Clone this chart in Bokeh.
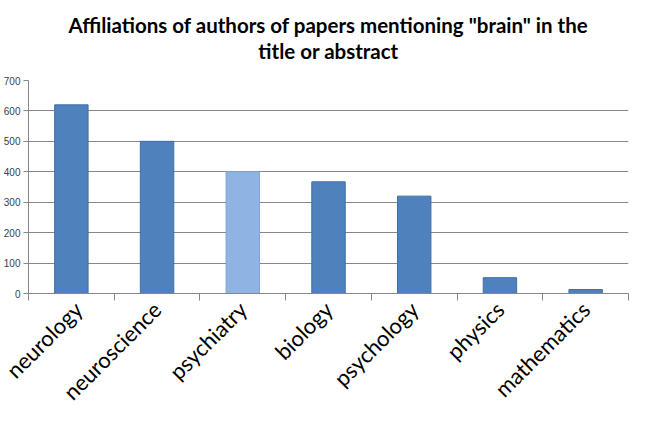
from bokeh.plotting import figure
from bokeh.models import FixedTicker, ColumnDataSource, Title
from bokeh.embed import file_html
from bokeh.resources import INLINE

categories = ["neurology", "neuroscience", "psychiatry", "biology", "psychology", "physics", "mathematics"]
values = [620, 500, 400, 367, 320, 52, 13]
colors = ["#4F81BD", "#4F81BD", "#8DB4E2", "#4F81BD", "#4F81BD", "#4F81BD", "#4F81BD"]
line_colors = ["#3F6FA8", "#3F6FA8", "#7FA6D6", "#3F6FA8", "#3F6FA8", "#3F6FA8", "#3F6FA8"]
y_ticks = [0, 100, 200, 300, 400, 500, 600, 700]
title_lines = ['Affiliations of authors of papers mentioning "brain" in the', 'title or abstract']

xs = [i + 0.5 for i in range(len(categories))]
src = ColumnDataSource(dict(x=xs, top=values, fill=colors, line=line_colors, name=categories))

p = figure(width=634, height=417, output_backend="svg", toolbar_location=None,
           x_range=(0, len(categories)), y_range=(0, 700),
           min_border_left=28, min_border_right=6, min_border_top=80, min_border_bottom=124)
p.title = None
p.add_layout(Title(text=" ", text_font_size="14px", standoff=0), "above")
p.add_layout(Title(text=title_lines[1], align="center", text_font="Lato", text_font_size="20.5px",
                   text_font_style="bold", text_color="#000000", standoff=0), "above")
p.add_layout(Title(text=title_lines[0], align="center", text_font="Lato", text_font_size="20.5px",
                   text_font_style="bold", text_color="#000000", standoff=0), "above")
p.outline_line_color = None

p.vbar(x="x", top="top", width=0.39, bottom=0, fill_color="fill", line_color="line", line_width=1, source=src)

p.xaxis.ticker = FixedTicker(ticks=xs, minor_ticks=list(range(len(categories) + 1)))
p.xaxis.major_label_overrides = {x: c for x, c in zip(xs, categories)}
p.xaxis.major_tick_out = 0
p.xaxis.major_tick_in = 0
p.xaxis.minor_tick_out = 7
p.xaxis.minor_tick_in = 0
p.xaxis.minor_tick_line_color = "#868686"
p.xaxis.axis_line_color = "#868686"
p.xaxis.major_label_orientation = 0.785398
p.xaxis.major_label_text_font = "Lato"
p.xaxis.major_label_text_font_size = "22px"
p.xaxis.major_label_text_color = "#000000"
p.xaxis.major_label_standoff = 5

p.yaxis.ticker = FixedTicker(ticks=y_ticks)
p.yaxis.minor_tick_line_color = None
p.yaxis.major_tick_out = 5
p.yaxis.major_tick_in = 0
p.yaxis.major_tick_line_color = "#868686"
p.yaxis.axis_line_color = "#868686"
p.yaxis.major_label_text_font = "Liberation Sans"
p.yaxis.major_label_text_font_size = "10px"
p.yaxis.major_label_text_color = "#404040"
p.yaxis.major_label_standoff = 3

p.xgrid.grid_line_color = None
p.ygrid.grid_line_color = "#868686"
p.ygrid.grid_line_width = 1

open("out.html", "w").write(file_html(p, INLINE))
